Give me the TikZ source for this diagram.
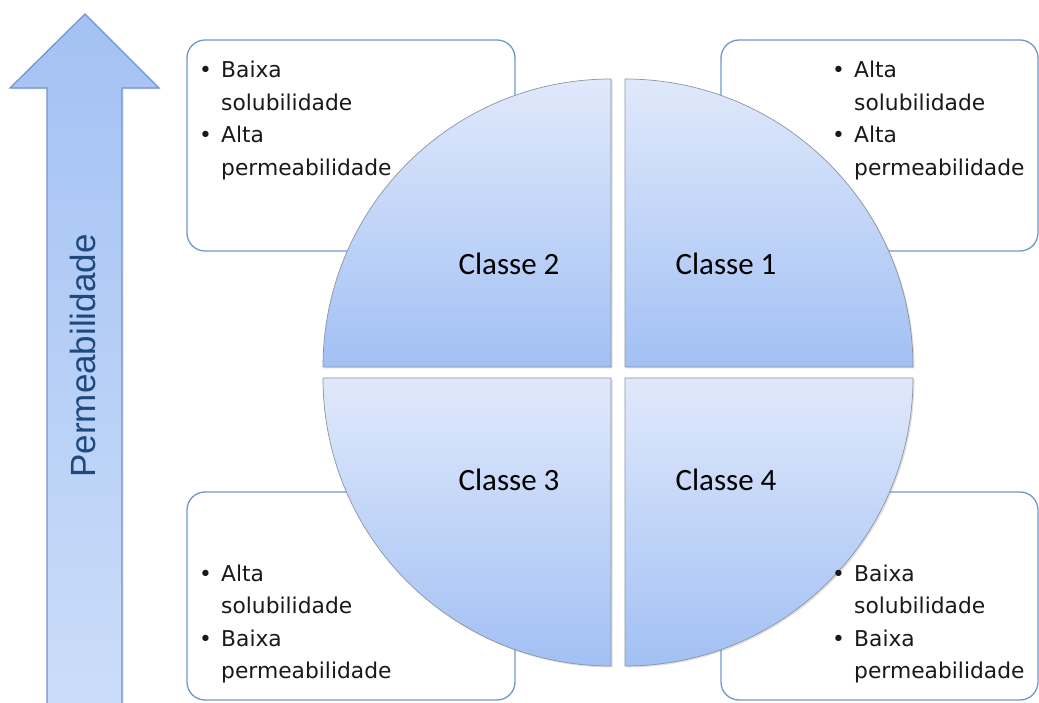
\documentclass[tikz,border=0pt]{standalone}
\usepackage{fontspec}
\usetikzlibrary{shadows}
\newfontfamily\clabfont{Carlito}
\newfontfamily\bulfont{DejaVu Sans}
\newfontfamily\axfont{Liberation Sans}
\definecolor{boxline}{RGB}{112,152,207}
\definecolor{arrline}{RGB}{112,148,204}
\definecolor{arrtop}{RGB}{163,193,244}
\definecolor{arrbot}{RGB}{203,221,249}
\definecolor{qlight}{RGB}{224,233,251}
\definecolor{qdark}{RGB}{162,192,244}
\definecolor{qline}{RGB}{140,148,162}
\definecolor{axtext}{RGB}{31,73,125}
\definecolor{bultext}{RGB}{25,25,25}
\newcommand{\bul}{\makebox[22pt][l]{•}}
\newcommand{\ind}{\hspace*{22pt}}
\begin{document}
\begin{tikzpicture}[x=1pt,y=1pt,
  infobox/.style={draw=boxline, line width=1.3pt, rounded corners=18pt, fill=white, inner sep=0pt},
  quad/.style={draw=qline, line width=0.7pt, top color=qlight, bottom color=qdark,
     drop shadow={opacity=0.25, shadow xshift=1.5pt, shadow yshift=-1.5pt}},
  classlabel/.style={font=\clabfont\fontsize{31}{36}\selectfont, text=black, inner sep=0pt},
  bultxt/.style={font=\bulfont\fontsize{21.8}{32.5}\selectfont, text=bultext, inner sep=0pt, anchor=base west, align=left}]
\useasboundingbox (0,0) rectangle (1039,702);
\clip (0,0) rectangle (1039,702);
% arrow
\draw[arrline, line width=1.2pt, top color=arrtop, bottom color=arrbot,
  drop shadow={opacity=0.2, shadow xshift=1.5pt, shadow yshift=-1.5pt}]
  (85,688) -- (159,614) -- (122,614) -- (122,-10) -- (47,-10) -- (47,614) -- (10,614) -- cycle;
\node[rotate=90, anchor=base, inner sep=0pt, text=axtext, font=\axfont\fontsize{35}{40}\selectfont] (axis) at (95,346) {Permeabilidade};
% boxes
\node[infobox, minimum width=328pt, minimum height=211pt] (b2) at (351,556.5) {};
\node[infobox, minimum width=317pt, minimum height=211pt] (b1) at (879.5,556.5) {};
\node[infobox, minimum width=328pt, minimum height=208pt] (b3) at (351,106) {};
\node[infobox, minimum width=317pt, minimum height=208pt] (b4) at (879.5,106) {};
% quadrants
\path[quad] (611,335) -- (323,335) arc (180:90:288) -- cycle;
\path[quad] (625,335) -- (913,335) arc (0:90:288) -- cycle;
\path[quad] (611,324) -- (323,324) arc (180:270:288) -- cycle;
\path[quad] (625,324) -- (913,324) arc (0:-90:288) -- cycle;
\node[classlabel] (c2) at (509,438) {Classe 2};
\node[classlabel] (c1) at (726,438) {Classe 1};
\node[classlabel] (c3) at (509,222) {Classe 3};
\node[classlabel] (c4) at (726,222) {Classe 4};
% box texts
\node[bultxt] (t2) at (199,624) {\begin{tabular}[t]{@{}l@{}}\bul Baixa\\ \ind solubilidade\\ \bul Alta\\ \ind permeabilidade\end{tabular}};
\node[bultxt] (t1) at (832,624) {\begin{tabular}[t]{@{}l@{}}\bul Alta\\ \ind solubilidade\\ \bul Alta\\ \ind permeabilidade\end{tabular}};
\node[bultxt] (t3) at (199,121) {\begin{tabular}[t]{@{}l@{}}\bul Alta\\ \ind solubilidade\\ \bul Baixa\\ \ind permeabilidade\end{tabular}};
\node[bultxt] (t4) at (832,121) {\begin{tabular}[t]{@{}l@{}}\bul Baixa\\ \ind solubilidade\\ \bul Baixa\\ \ind permeabilidade\end{tabular}};
\end{tikzpicture}
\end{document}
